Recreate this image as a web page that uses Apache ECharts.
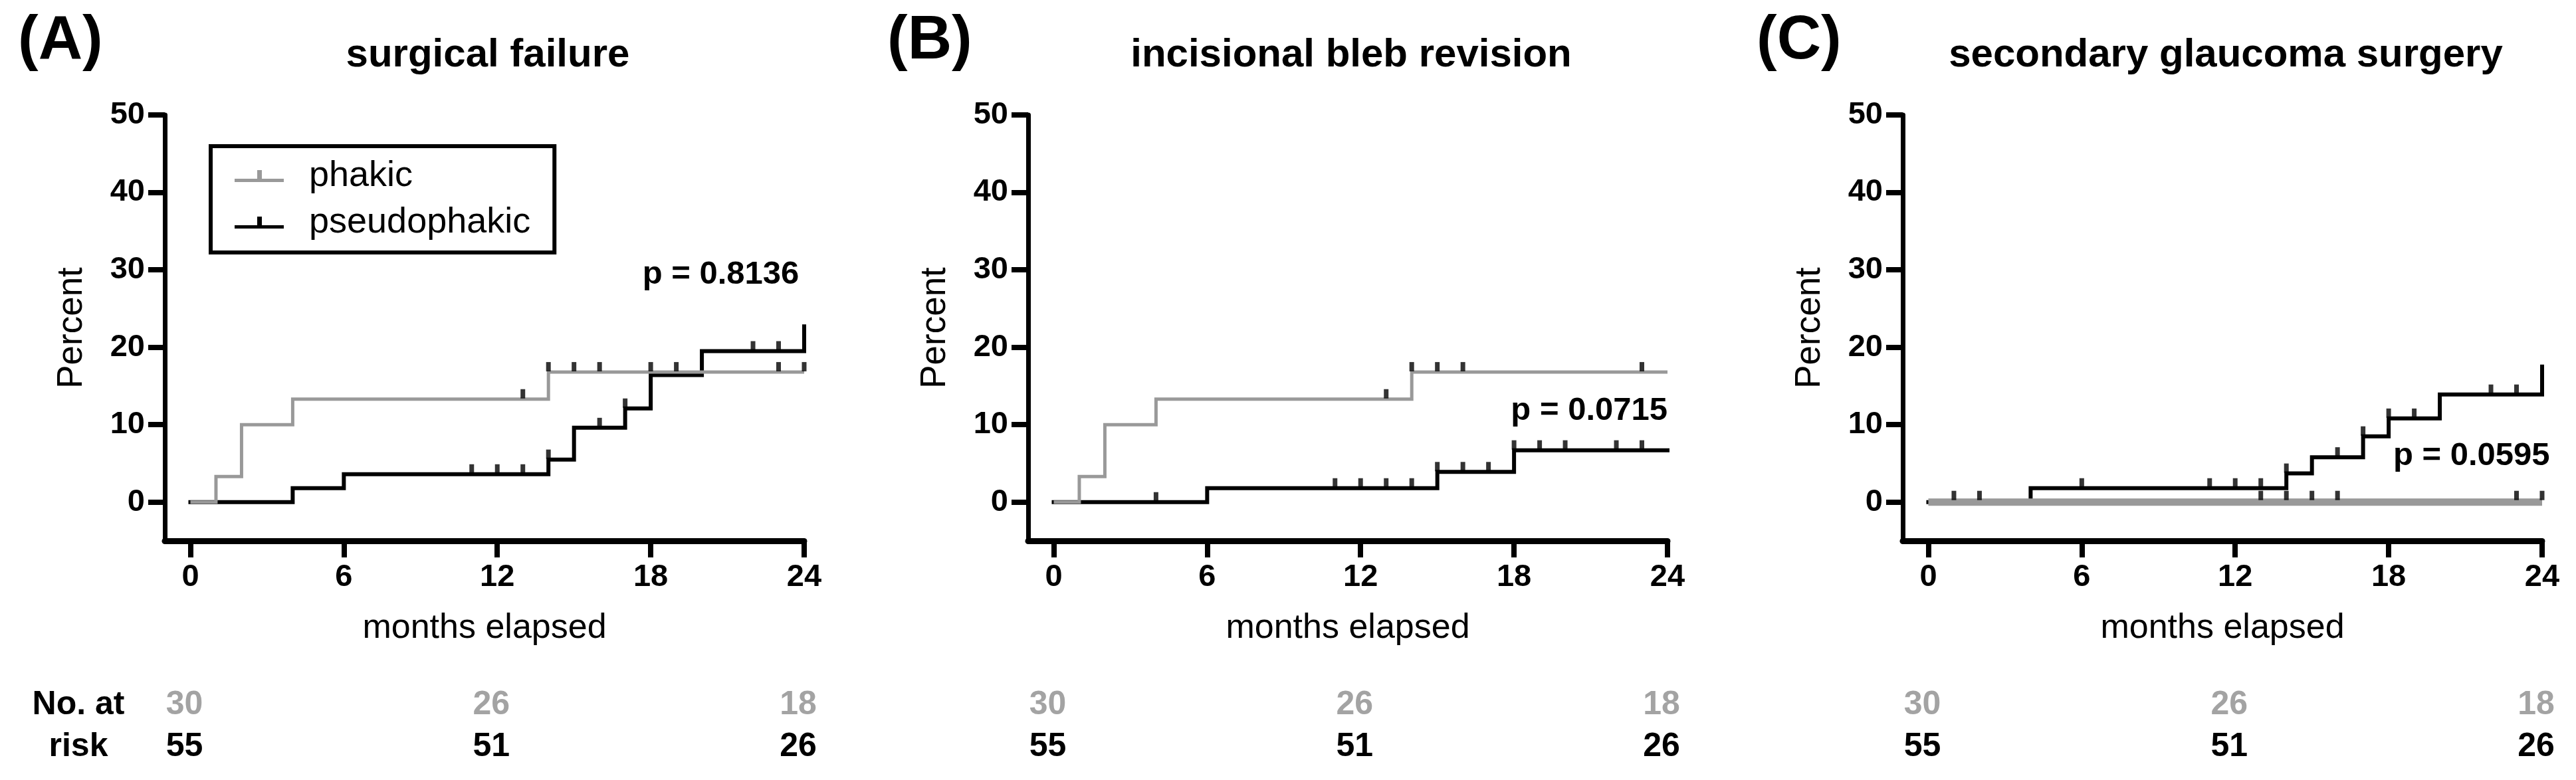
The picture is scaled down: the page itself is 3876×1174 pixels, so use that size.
<!DOCTYPE html>
<html><head><meta charset="utf-8">
<script src="https://cdn.jsdelivr.net/npm/echarts@6/dist/echarts.min.js"></script>
<style>html,body{margin:0;padding:0;background:#fff}#c{width:3876px;height:1174px}</style>
</head><body><div id="c"></div>
<script>
// ---------- data ----------
const panelLetters = ['(A)', '(B)', '(C)'];
const panelTitles = ['surgical failure', 'incisional bleb revision', 'secondary glaucoma surgery'];
const seriesNames = ['phakic', 'pseudophakic'];
const xTicks = [0, 6, 12, 18, 24];
const yTicks = [0, 10, 20, 30, 40, 50];
const pValues = ['p = 0.8136', 'p = 0.0715', 'p = 0.0595'];
const pValuePos = [[23.8, 29.4], [24, 11.8], [24.3, 5.9]];
const riskTimes = [0, 12, 24];
const riskPhakic = [30, 26, 18];
const riskPseudo = [55, 51, 26];

// panel A: surgical failure
const phakicA = [[0, 0], [1, 3.3], [2, 10], [4, 13.3], [14, 16.8], [24, 16.8]];
const phakicCensA = [[13, 13.3], [14, 16.8], [15, 16.8], [16, 16.8], [18, 16.8], [19, 16.8], [23, 16.8], [24, 16.8]];
const pseudoA = [[0, 0], [4, 1.8], [6, 3.6], [14, 5.5], [15, 9.6], [17, 12.1], [18, 16.4], [20, 19.5], [24, 22.7]];
const pseudoCensA = [[11, 3.6], [12, 3.6], [13, 3.6], [14, 5.5], [16, 9.6], [17, 12.1], [22, 19.5], [23, 19.5]];

// panel B: incisional bleb revision
const phakicB = [[0, 0], [1, 3.3], [2, 10], [4, 13.3], [14, 16.8], [24, 16.8]];
const phakicCensB = [[13, 13.3], [14, 16.8], [15, 16.8], [16, 16.8], [23, 16.8]];
const pseudoB = [[0, 0], [6, 1.8], [15, 3.9], [18, 6.7], [24, 6.7]];
const pseudoCensB = [[4, 0], [11, 1.8], [12, 1.8], [13, 1.8], [14, 1.8], [15, 3.9], [16, 3.9], [17, 3.9], [18, 6.7], [19, 6.7], [20, 6.7], [22, 6.7], [23, 6.7]];

// panel C: secondary glaucoma surgery
const phakicC = [[0, 0], [24, 0]];
const phakicCensC = [[1, 0], [2, 0], [13, 0], [14, 0], [15, 0], [16, 0], [23, 0], [24, 0]];
const pseudoC = [[0, 0], [4, 1.8], [14, 3.7], [15, 5.8], [17, 8.5], [18, 10.8], [20, 13.9], [24, 17.5]];
const pseudoCensC = [[6, 1.8], [11, 1.8], [12, 1.8], [13, 1.8], [14, 3.7], [16, 5.8], [17, 8.5], [18, 10.8], [19, 10.8], [22, 13.9], [23, 13.9]];

const phakicData = [phakicA, phakicB, phakicC];
const phakicCens = [phakicCensA, phakicCensB, phakicCensC];
const pseudoData = [pseudoA, pseudoB, pseudoC];
const pseudoCens = [pseudoCensA, pseudoCensB, pseudoCensC];

// ---------- styling / layout ----------
const FONT = '"Liberation Sans", Arial, sans-serif';
const GRAY = '#999999';
const GRAY_TEXT = '#a3a3a3';
const gridLefts = [248, 1547, 2863];
const GRID_W = 962, GRID_TOP = 173, GRID_H = 641;
const grayWidths = [5, 5, 11];

const chart = echarts.init(document.getElementById('c'), null, {renderer: 'canvas'});

const grids = [], xAxes = [], yAxes = [], series = [], titles = [];
for (let i = 0; i < 3; i++) {
  grids.push({left: gridLefts[i], top: GRID_TOP, width: GRID_W, height: GRID_H});
  xAxes.push({
    type: 'value', gridIndex: i, min: -1, max: 24,
    axisLine: {show: true, onZero: false, lineStyle: {color: '#000', width: 9}},
    axisTick: {show: true, customValues: xTicks, length: 25, lineStyle: {color: '#000', width: 8}},
    axisLabel: {customValues: xTicks, margin: 32, color: '#000', fontSize: 47, fontWeight: 'bold', fontFamily: FONT},
    splitLine: {show: false},
    name: 'months elapsed', nameLocation: 'middle', nameGap: 106,
    nameTextStyle: {fontSize: 52, color: '#000', fontFamily: FONT}
  });
  yAxes.push({
    type: 'value', gridIndex: i, min: -5, max: 50,
    axisLine: {show: true, onZero: false, lineStyle: {color: '#000', width: 7}},
    axisTick: {show: true, customValues: yTicks, length: 25, lineStyle: {color: '#000', width: 8}},
    axisLabel: {customValues: yTicks, margin: 30, color: '#000', fontSize: 47, fontWeight: 'bold', fontFamily: FONT},
    splitLine: {show: false},
    name: 'Percent', nameLocation: 'middle', nameGap: 113,
    nameTextStyle: {fontSize: 53, color: '#000', fontFamily: FONT}
  });
  const cx = gridLefts[i] + GRID_W / 2;
  titles.push({text: panelLetters[i], left: [22, 1330, 2638][i], top: 12,
    textStyle: {fontSize: 92, fontWeight: 'bold', color: '#000', fontFamily: FONT}});
  titles.push({text: panelTitles[i], left: cx, textAlign: 'center', top: 48,
    textStyle: {fontSize: 60, fontWeight: 'bold', color: '#000', fontFamily: FONT}});

  series.push({
    name: seriesNames[1], type: 'line', step: 'end', xAxisIndex: i, yAxisIndex: i,
    data: pseudoData[i], showSymbol: false, z: 3,
    itemStyle: {color: '#000'}, lineStyle: {color: '#000', width: 6, cap: 'square', join: 'miter'}
  });
  series.push({
    name: seriesNames[0], type: 'line', step: 'end', xAxisIndex: i, yAxisIndex: i,
    data: phakicData[i], showSymbol: false, z: 4,
    itemStyle: {color: GRAY}, lineStyle: {color: GRAY, width: grayWidths[i], join: 'miter'}
  });
  series.push({
    name: 'pseudophakic censored', type: 'scatter', xAxisIndex: i, yAxisIndex: i,
    data: pseudoCens[i], symbol: 'rect', symbolSize: [7, 14], symbolOffset: [0, -8], z: 5,
    itemStyle: {color: '#000'}
  });
  series.push({
    name: 'phakic censored', type: 'scatter', xAxisIndex: i, yAxisIndex: i,
    data: phakicCens[i], symbol: 'rect', symbolSize: [7, 14], symbolOffset: [0, i === 2 ? -10 : -8], z: 5,
    itemStyle: {color: '#000'}
  });
}

chart.setOption({
  animation: false,
  backgroundColor: '#fff',
  title: titles,
  grid: grids, xAxis: xAxes, yAxis: yAxes, series: series,
  legend: {
    data: seriesNames, orient: 'vertical', left: 317, top: 220,
    borderColor: '#000', borderWidth: 6, padding: [18, 36, 18, 36], itemGap: 16,
    itemWidth: 74, itemHeight: 18, selectedMode: false,
    icon: 'path://M0,13H74V18H0Z M34,0H41V13H34Z',
    textStyle: {fontSize: 54, color: '#000', fontFamily: FONT, padding: [0, 0, 0, 33]}
  }
});

// p values and number-at-risk table (placed through the axes' own scales)
const graphics = [];
const boldFont = (s) => 'bold ' + s + 'px ' + FONT;
for (let i = 0; i < 3; i++) {
  const pp = chart.convertToPixel({gridIndex: i}, pValuePos[i]);
  graphics.push({type: 'text', x: pp[0], y: pp[1], z: 10, style: {text: pValues[i], font: boldFont(49), fill: '#000', align: 'right', verticalAlign: 'middle'}});
}
graphics.push({type: 'text', x: 118, y: 1061, style: {text: 'No. at', font: boldFont(50), fill: '#000', align: 'center', verticalAlign: 'middle'}});
graphics.push({type: 'text', x: 118, y: 1124, style: {text: 'risk', font: boldFont(50), fill: '#000', align: 'center', verticalAlign: 'middle'}});
for (let i = 0; i < 3; i++) {
  riskTimes.forEach((t, k) => {
    const px = chart.convertToPixel({gridIndex: i}, [t, 0])[0] - 9;
    graphics.push({type: 'text', x: px, y: 1061, style: {text: String(riskPhakic[k]), font: boldFont(50), fill: GRAY_TEXT, align: 'center', verticalAlign: 'middle'}});
    graphics.push({type: 'text', x: px, y: 1124, style: {text: String(riskPseudo[k]), font: boldFont(50), fill: '#000', align: 'center', verticalAlign: 'middle'}});
  });
}
chart.setOption({graphic: graphics});
</script>
</body></html>
